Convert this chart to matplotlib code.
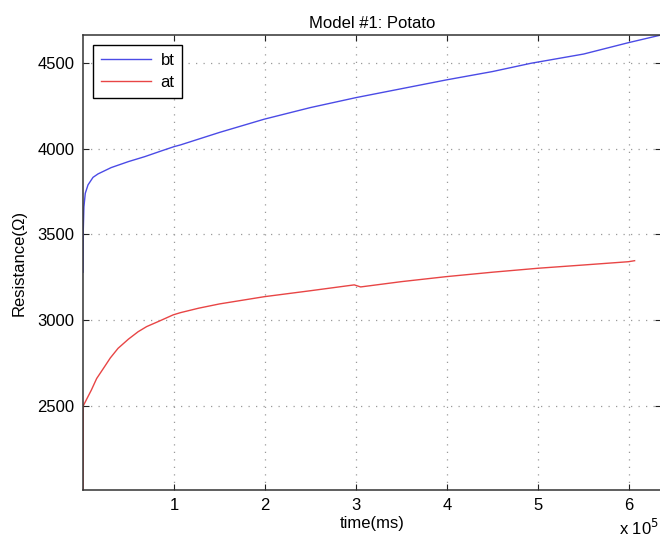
"""
Resistance vs time, model #1 (potato), before/after treatment.
"""

import matplotlib
matplotlib.use('Agg')
import matplotlib.pyplot as plt
from matplotlib.ticker import FuncFormatter

plt.rcParams['font.family'] = ['Liberation Sans', 'DejaVu Sans']
plt.rcParams['font.size'] = 12

# Data (time in 1e5 ms, resistance in ohm)
# ----------------------------------------------------------------------------

t_bt = [0.0, 0.003, 0.01, 0.025, 0.055, 0.11, 0.165, 0.31, 0.5, 0.68, 0.86,
        1.0, 1.07, 1.5, 1.99, 2.5, 3.0, 3.5, 3.99, 4.5, 4.92, 5.5, 5.99, 6.35]
r_bt = [3280, 3525, 3660, 3740, 3789, 3833, 3853, 3890, 3925, 3954, 3987,
        4012, 4022, 4095, 4172, 4240, 4298, 4350, 4401, 4450, 4498, 4552, 4618, 4663]

t_at = [0.0, 0.002, 0.092, 0.15, 0.238, 0.3, 0.385, 0.5, 0.606, 0.7, 0.826,
        0.99, 1.07, 1.27, 1.5, 1.99, 2.5, 2.98, 3.05, 3.5, 3.99, 4.5, 5.0,
        5.5, 5.99, 6.06]
r_at = [2010, 2500, 2593, 2660, 2730, 2780, 2836, 2890, 2933, 2963, 2992,
        3031, 3044, 3070, 3095, 3137, 3172, 3206, 3194, 3225, 3254, 3280, 3303,
        3322, 3341, 3347]

x_ticks = [1, 2, 3, 4, 5, 6]
y_ticks = [2500, 3000, 3500, 4000, 4500]

# Plot
# ----------------------------------------------------------------------------

fig = plt.figure(figsize=(6.6, 5.4), dpi=100)
ax = fig.add_axes([83 / 660, 50 / 540, 578 / 660, 455 / 540])

ax.plot([t * 1e5 for t in t_bt], r_bt, color='#4b4be6', lw=1, label='bt')
ax.plot([t * 1e5 for t in t_at], r_at, color='#e84545', lw=1, label='at')

ax.set_xlim(0, 6.35e5)
ax.set_ylim(2010, 4663)
ax.set_xticks([x * 1e5 for x in x_ticks])
ax.set_yticks(y_ticks)
ax.xaxis.set_major_formatter(FuncFormatter(lambda v, p: f'{v / 1e5:g}'))

ax.tick_params(direction='in', length=4, width=0.8, top=True, right=True,
               colors='#222222', labelcolor='black', pad=6)
for s in ax.spines.values():
    s.set_color('#333333')
    s.set_linewidth(1.1)

ax.grid(True, color='#9a9a9a', linestyle=(0, (1, 5)), lw=0.9)

ax.set_title('Model #1: Potato', fontsize=12, pad=5)
ax.set_xlabel('time(ms)', labelpad=2)
ax.set_ylabel('Resistance(Ω)', labelpad=8)

fig.text(619 / 660, 1 - 528 / 540, 'x 10$^5$', ha='left', va='center', fontsize=12)

leg = ax.legend(loc='upper left', fancybox=False, edgecolor='black',
                handlelength=3.0, borderaxespad=0.6, framealpha=1,
                borderpad=0.45, labelspacing=0.45, handletextpad=0.6)
leg.get_frame().set_linewidth(1.0)

fig.savefig('out.png', dpi=100)
